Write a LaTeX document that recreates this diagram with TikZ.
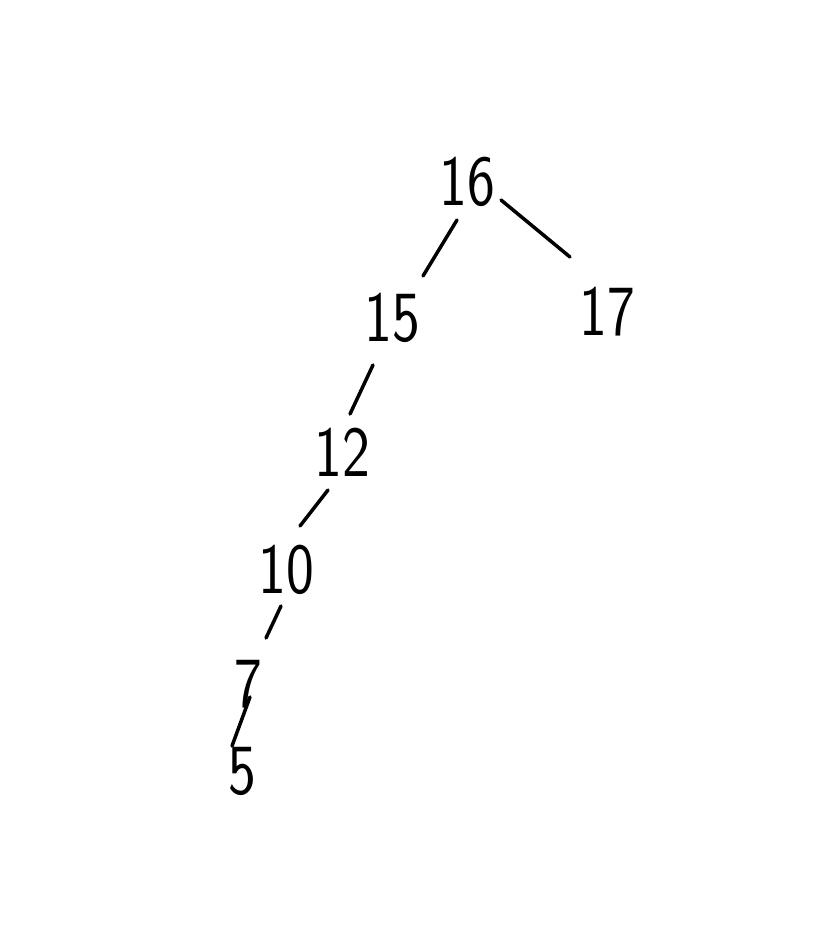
\documentclass[tikz,border=0pt]{standalone}
\usepackage{fontspec}
\newcommand\narrowdig[1]{\scalebox{0.82}[1]{#1}}
\begin{document}
\begin{tikzpicture}[x=1pt,y=-1pt,
  num/.style={inner sep=0pt, font=\fontsize{72}{72}\sffamily, text=black},
  link/.style={line width=3.5pt, line cap=round, black}]
\useasboundingbox[fill=white] (0,0) rectangle (812,944);
\node[num] (n16) at (467,182) {\narrowdig{16}};
\node[num] (n15) at (392,318) {\narrowdig{15}};
\node[num] (n17) at (607,312) {\narrowdig{17}};
\node[num] (n12) at (342,452) {\narrowdig{12}};
\node[num] (n10) at (286,570) {\narrowdig{10}};
\node[num] (n7)  at (248,684) {\narrowdig{7}};
\node[num] (n5)  at (242,771) {\narrowdig{5}};
\draw[link] ([shift={(-10,38)}]n16.center) -- ([shift={(31,-42)}]n15.center);
\draw[link] ([shift={(34,18)}]n16.center) -- ([shift={(-37,-55)}]n17.center);
\draw[link] ([shift={(-19,47)}]n15.center) -- ([shift={(8,-38)}]n12.center);
\draw[link] ([shift={(-14,38)}]n12.center) -- ([shift={(14,-44)}]n10.center);
\draw[link] ([shift={(-5,36)}]n10.center) -- ([shift={(18,-46)}]n7.center);
\draw[link] ([shift={(2,13)}]n7.center) -- ([shift={(-10,-25)}]n5.center);
\end{tikzpicture}
\end{document}
